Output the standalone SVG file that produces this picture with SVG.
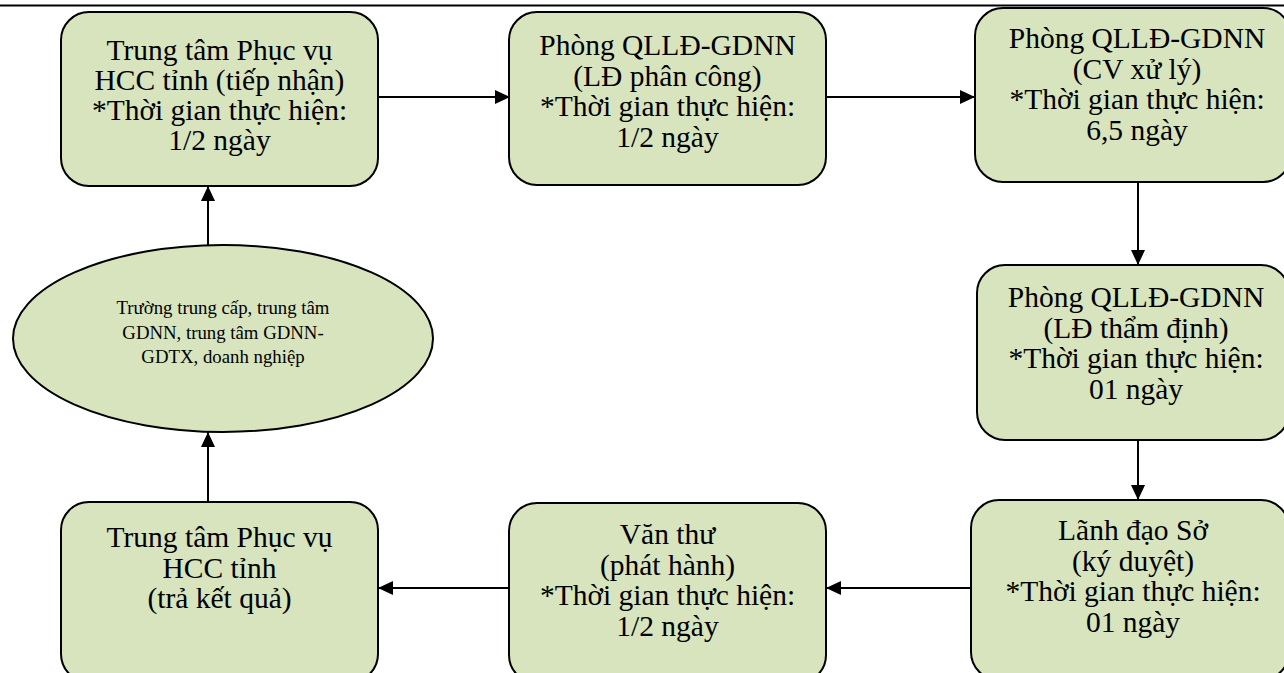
<svg xmlns="http://www.w3.org/2000/svg" width="1284" height="673" viewBox="0 0 1284 673">
<style>
.box{fill:#D7E4BD;stroke:#000;stroke-width:2}
.t{font-family:"Liberation Serif","Times New Roman",serif;font-size:29.5px;fill:#000;text-anchor:middle}
.s{font-family:"Liberation Serif","Times New Roman",serif;font-size:18.8px;fill:#000;text-anchor:middle}
.c{stroke:#000;stroke-width:2;fill:none}
</style>
<defs>
<marker id="ah" viewBox="0 0 15 14" refX="15" refY="7" markerWidth="15" markerHeight="14" markerUnits="userSpaceOnUse" orient="auto">
<path d="M0,0 L15,7 L0,14 Z" fill="#000"/>
</marker>
</defs>
<rect width="1284" height="673" fill="#fff"/>
<line x1="0" y1="5.5" x2="1284" y2="5.5" stroke="#000" stroke-width="2.2"/>
<g id="connectors">
<line class="c" x1="378" y1="97" x2="510" y2="97" marker-end="url(#ah)"/>
<line class="c" x1="826" y1="97" x2="975" y2="97" marker-end="url(#ah)"/>
<line class="c" x1="1138" y1="182" x2="1138" y2="265" marker-end="url(#ah)"/>
<line class="c" x1="1138" y1="440" x2="1138" y2="500" marker-end="url(#ah)"/>
<line class="c" x1="971" y1="588" x2="826" y2="588" marker-end="url(#ah)"/>
<line class="c" x1="509" y1="588" x2="378" y2="588" marker-end="url(#ah)"/>
<line class="c" x1="208" y1="502" x2="208" y2="432" marker-end="url(#ah)"/>
<line class="c" x1="208" y1="245" x2="208" y2="186" marker-end="url(#ah)"/>
</g>
<g id="n1">
<rect class="box" x="61" y="12" width="317" height="174" rx="28"/>
<text class="t" x="219.5" y="60">Trung tâm Phục vụ</text>
<text class="t" x="219.5" y="90">HCC tỉnh (tiếp nhận)</text>
<text class="t" x="219.5" y="120">*Thời gian thực hiện:</text>
<text class="t" x="219.5" y="150">1/2 ngày</text>
</g>
<g id="n2">
<rect class="box" x="509" y="12" width="317" height="173" rx="28"/>
<text class="t" x="667.5" y="55">Phòng QLLĐ-GDNN</text>
<text class="t" x="667.5" y="85.5">(LĐ phân công)</text>
<text class="t" x="667.5" y="116">*Thời gian thực hiện:</text>
<text class="t" x="667.5" y="146.5">1/2 ngày</text>
</g>
<g id="n3">
<rect class="box" x="975" y="8" width="316" height="174" rx="28"/>
<text class="t" x="1137" y="48">Phòng QLLĐ-GDNN</text>
<text class="t" x="1137" y="78.5">(CV xử lý)</text>
<text class="t" x="1137" y="109">*Thời gian thực hiện:</text>
<text class="t" x="1137" y="139.5">6,5 ngày</text>
</g>
<g id="n4">
<rect class="box" x="977" y="265" width="312" height="175" rx="28"/>
<text class="t" x="1136" y="307">Phòng QLLĐ-GDNN</text>
<text class="t" x="1136" y="337.5">(LĐ thẩm định)</text>
<text class="t" x="1136" y="368">*Thời gian thực hiện:</text>
<text class="t" x="1136" y="398.5">01 ngày</text>
</g>
<g id="n5">
<rect class="box" x="971" y="500" width="318" height="180" rx="28"/>
<text class="t" x="1133" y="540">Lãnh đạo Sở</text>
<text class="t" x="1133" y="570.5">(ký duyệt)</text>
<text class="t" x="1133" y="601">*Thời gian thực hiện:</text>
<text class="t" x="1133" y="631.5">01 ngày</text>
</g>
<g id="n6">
<rect class="box" x="509" y="503" width="317" height="180" rx="28"/>
<text class="t" x="667.5" y="544">Văn thư</text>
<text class="t" x="667.5" y="574.5">(phát hành)</text>
<text class="t" x="667.5" y="605">*Thời gian thực hiện:</text>
<text class="t" x="667.5" y="635.5">1/2 ngày</text>
</g>
<g id="n7">
<rect class="box" x="61" y="502" width="317" height="180" rx="28"/>
<text class="t" x="219.5" y="547">Trung tâm Phục vụ</text>
<text class="t" x="219.5" y="577.5">HCC tỉnh</text>
<text class="t" x="219.5" y="608">(trả kết quả)</text>
</g>
<g id="n8">
<ellipse class="box" cx="223" cy="338.5" rx="210" ry="93.5"/>
<text class="s" x="223" y="314">Trường trung cấp, trung tâm</text>
<text class="s" x="223" y="338.5">GDNN, trung tâm GDNN-</text>
<text class="s" x="223" y="363">GDTX, doanh nghiệp</text>
</g>
</svg>
